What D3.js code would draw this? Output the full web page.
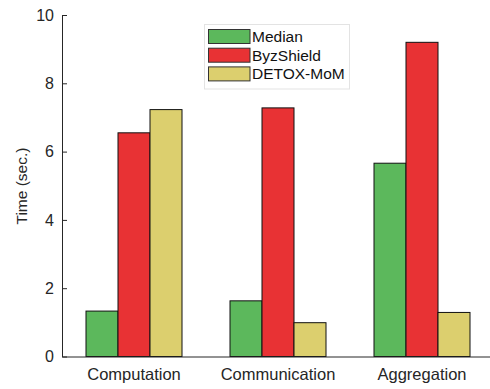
<!DOCTYPE html>
<html>
<head>
<meta charset="utf-8">
<script src="https://cdn.jsdelivr.net/npm/d3@7"></script>
<style>
  html, body { margin: 0; padding: 0; background: #fff; }
  svg { display: block; font-family: "Liberation Sans", Arial, Helvetica, sans-serif; }
</style>
</head>
<body>
<svg id="chart" width="490" height="389"></svg>
<script>
// Stage timings per method
const categories = ["Computation", "Communication", "Aggregation"];
const seriesNames = ["Median", "ByzShield", "DETOX-MoM"];
const medianValues = [1.33, 1.63, 5.66];
const byzShieldValues = [6.55, 7.28, 9.2];
const detoxValues = [7.23, 0.99, 1.29];
const yTicks = [0, 2, 4, 6, 8, 10];
const seriesColors = ["#5cb85c", "#e83234", "#dccf6e"];

const seriesValues = [medianValues, byzShieldValues, detoxValues];
const rows = categories.map((c, i) => ({
  category: c,
  values: seriesNames.map((s, j) => ({ series: s, value: seriesValues[j][i], color: seriesColors[j] }))
}));

const svg = d3.select("#chart");
const plotLeft = 62, plotRight = 494, plotTop = 15, plotBottom = 356.5;
const axisColor = "#262626";

const x = d3.scaleBand().domain(categories).range([plotLeft, plotRight])
  .paddingInner(1 / 3).paddingOuter(1 / 6);
const xs = d3.scaleBand().domain(seriesNames).range([0, x.bandwidth()]);
const y = d3.scaleLinear().domain([0, 10]).range([plotBottom, plotTop]);

// bars
const groups = svg.append("g").selectAll("g").data(rows).join("g")
  .attr("transform", d => `translate(${x(d.category)},0)`);
groups.selectAll("rect").data(d => d.values).join("rect")
  .attr("x", d => xs(d.series))
  .attr("y", d => y(d.value))
  .attr("width", xs.bandwidth())
  .attr("height", d => y(0) - y(d.value))
  .attr("fill", d => d.color)
  .attr("stroke", "#111")
  .attr("stroke-width", 1);

// y axis, ticks pointing inward
const yAxis = svg.append("g").attr("transform", `translate(${plotLeft},0)`)
  .call(d3.axisLeft(y).tickValues(yTicks).tickSizeInner(-5).tickSizeOuter(0).tickPadding(8));
yAxis.select(".domain").attr("stroke", axisColor);
yAxis.selectAll(".tick line").attr("stroke", axisColor);
yAxis.selectAll(".tick text").attr("fill", axisColor)
  .attr("font-size", 16).attr("font-family", "Liberation Sans, Arial, sans-serif");

// x axis
const xAxis = svg.append("g").attr("transform", `translate(0,${plotBottom})`)
  .call(d3.axisBottom(x).tickSizeInner(0).tickSizeOuter(0).tickPadding(12));
xAxis.select(".domain").attr("stroke", axisColor);
xAxis.selectAll(".tick text").attr("fill", axisColor)
  .attr("font-size", 16.5).attr("font-family", "Liberation Sans, Arial, sans-serif");

// y label
svg.append("text")
  .attr("transform", "translate(27,186) rotate(-90)")
  .attr("text-anchor", "middle")
  .attr("fill", axisColor)
  .attr("font-size", 15.5)
  .text("Time (sec.)");

// legend
const legend = svg.append("g");
legend.append("rect")
  .attr("x", 204.5).attr("y", 24.5).attr("width", 145).attr("height", 64.5)
  .attr("fill", "#fff").attr("stroke", "#e3e3e3").attr("stroke-width", 1);
const items = legend.selectAll("g").data(seriesNames).join("g")
  .attr("transform", (d, i) => `translate(0,${29.5 + i * 18.7})`);
items.append("rect")
  .attr("x", 208.5).attr("y", 0).attr("width", 41.5).attr("height", 14)
  .attr("fill", (d, i) => seriesColors[i])
  .attr("stroke", "#333").attr("stroke-width", 1);
items.append("text")
  .attr("x", 252).attr("y", 7).attr("dy", "0.36em")
  .attr("fill", "#111")
  .attr("font-size", 15.5)
  .text(d => d);
</script>
</body>
</html>
